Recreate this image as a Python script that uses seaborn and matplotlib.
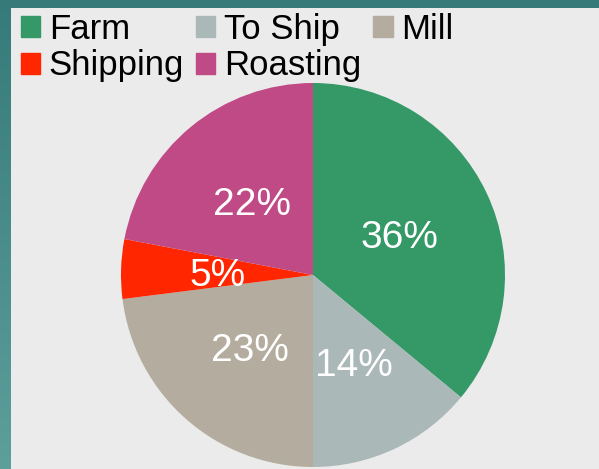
import numpy as np
import matplotlib.pyplot as plt
import seaborn as sns
from matplotlib.patches import Rectangle, Patch

# data
etaplar = ['Farm', 'To Ship', 'Mill', 'Shipping', 'Roasting']
yuzdeler = [36, 14, 23, 5, 22]
renkler = ['#349966', '#aab8b7', '#b4ad9f', '#ff2600', '#c04a86']

sns.set_theme(style='white')
plt.rcParams['font.family'] = ['Liberation Sans', 'DejaVu Sans']

fig = plt.figure(figsize=(5.99, 4.69), dpi=100)

# teal frame gradient
bg = fig.add_axes([0, 0, 1, 1])
grad = np.linspace(0, 1, 256).reshape(-1, 1)
cmap = sns.blend_palette(['#367a79', '#5c9f9b'], as_cmap=True)
bg.imshow(grad, aspect='auto', cmap=cmap, extent=[0, 1, 0, 1], origin='upper')
bg.add_patch(Rectangle((11 / 599, 0), 1, 1 - 8 / 469, color='#ebebeb', lw=0))
bg.set_xlim(0, 1)
bg.set_ylim(0, 1)
bg.axis('off')

# pie
ax = fig.add_axes([121 / 599, 2 / 469, 384 / 599, 384 / 469])
wedges, _, pct = ax.pie(yuzdeler, colors=renkler, startangle=90, counterclock=False,
                        autopct='%1.0f%%', pctdistance=0.5,
                        wedgeprops={'linewidth': 0},
                        textprops={'color': 'white', 'fontsize': 28})
for t in pct:
    t.set_va('center_baseline')
ax.set_xlim(-1, 1)
ax.set_ylim(-1, 1)
ax.set_aspect('equal')

# legend satir satir: sutun sirasina gore diz
sira = [0, 3, 1, 4, 2]
handles = [Patch(color=renkler[i], label=etaplar[i]) for i in sira]
fig.legend(handles=handles, loc='upper left', bbox_to_anchor=(21 / 599, 1 - 13 / 469),
           ncol=3, frameon=False, fontsize=25, handlelength=0.55, handleheight=0.55,
           handletextpad=0.25, columnspacing=0.35, labelspacing=0.1, borderpad=0,
           borderaxespad=0, labelcolor='black')

fig.savefig('out.png', dpi=100)
